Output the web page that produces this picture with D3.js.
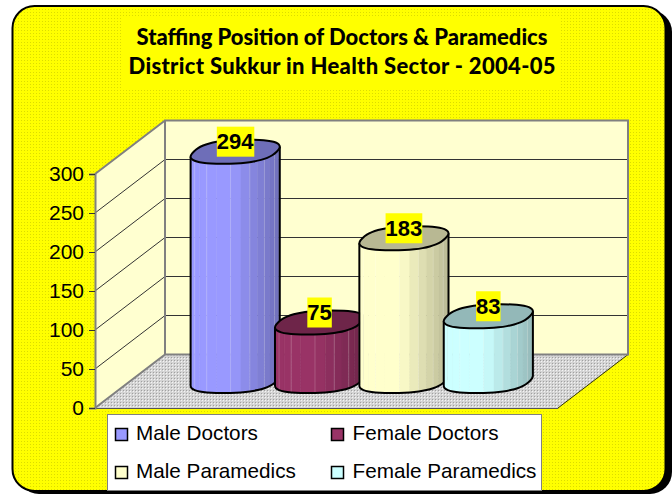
<!DOCTYPE html>
<html>
<head>
<meta charset="utf-8">
<script src="https://cdn.jsdelivr.net/npm/d3@7"></script>
<style>
    html, body { margin: 0; padding: 0; background: #fff; }
    svg { display: block; }
</style>
</head>
<body>
<div id="chart"></div>
<script>
const categories = ['Male Doctors', 'Female Doctors', 'Male Paramedics', 'Female Paramedics'];
const staffValues = [294, 75, 183, 83];
const yTicks = [0, 50, 100, 150, 200, 250, 300];
const barColors = ['#9999ff', '#993366', '#ffffcc', '#ccffff'];
const titleLines = ['Staffing Position of Doctors & Paramedics', 'District Sukkur in Health Sector - 2004-05'];

const width = 672;
const height = 494;

// front plane of the 3D box, depth is a constant shift
const depth = { x: 70, y: -53.5 };
const front = { left: 95, right: 558, bottom: 408, top: 174 };

const y = d3.scaleLinear().domain([0, 300]).range([front.bottom, front.top]);
const x = d3.scaleBand().domain(categories).range([158, 495.5]);

const svg = d3.select('#chart').append('svg')
    .attr('width', width)
    .attr('height', height);

const defs = svg.append('defs');

const yellowPat = defs.append('pattern')
    .attr('id', 'yellowDots')
    .attr('width', 3).attr('height', 3)
    .attr('patternUnits', 'userSpaceOnUse');
yellowPat.append('rect').attr('width', 3).attr('height', 3).attr('fill', '#ffff00');
yellowPat.append('rect').attr('width', 1).attr('height', 1).attr('fill', '#dcdc00');

const floorPat = defs.append('pattern')
    .attr('id', 'floorDots')
    .attr('width', 3).attr('height', 3)
    .attr('patternUnits', 'userSpaceOnUse');
floorPat.append('rect').attr('width', 3).attr('height', 3).attr('fill', '#d4d4d4');
floorPat.append('rect').attr('width', 1).attr('height', 1).attr('fill', '#a0a0a0');
floorPat.append('rect').attr('x', 1).attr('y', 1).attr('width', 1).attr('height', 1).attr('fill', '#f4f4f4');

// card with shadow
svg.append('rect')
    .attr('x', 17).attr('y', 10).attr('width', 655).attr('height', 484)
    .attr('rx', 22).attr('fill', '#000');
svg.append('rect')
    .attr('x', 12.5).attr('y', 6).attr('width', 653).attr('height', 485)
    .attr('rx', 22)
    .attr('fill', 'url(#yellowDots)')
    .attr('stroke', '#000')
    .attr('stroke-width', 2);

// title
svg.append('rect')
    .attr('x', 123).attr('y', 18).attr('width', 437).attr('height', 72)
    .attr('fill', '#ffff00');
svg.append('g').selectAll('text')
    .data(titleLines)
    .enter().append('text')
    .attr('x', 342)
    .attr('y', (d, i) => 45 + i * 29)
    .attr('text-anchor', 'middle')
    .attr('font-family', 'Lato')
    .attr('font-weight', 900)
    .attr('font-size', 22)
    .attr('textLength', (d, i) => i ? 427 : 411)
    .text(d => d);

// walls and floor
const x0 = front.left, x1 = front.right;
const polygon = pts => pts.map(p => p.join(',')).join(' ');
const y0 = y(0), y300 = y(300);
const wallColor = '#ffffd0';

svg.append('polygon')
    .attr('points', polygon([[x0, y0], [x0 + depth.x, y0 + depth.y], [x1 + depth.x, y0 + depth.y], [x1, y0]]))
    .attr('fill', 'url(#floorDots)');
svg.append('line')
    .attr('x1', x1).attr('y1', y0).attr('x2', x1 + depth.x).attr('y2', y0 + depth.y)
    .attr('stroke', '#333300').attr('stroke-width', 1);
svg.append('polygon')
    .attr('points', polygon([[x0, y0], [x0 + depth.x, y0 + depth.y], [x0 + depth.x, y300 + depth.y], [x0, y300]]))
    .attr('fill', wallColor);
svg.append('rect')
    .attr('x', x0 + depth.x).attr('y', y300 + depth.y)
    .attr('width', x1 - x0).attr('height', y0 - y300)
    .attr('fill', wallColor);

// grid lines on both walls
const grid = svg.append('g').attr('fill', 'none').attr('stroke', '#333').attr('stroke-width', 1);
yTicks.filter(d => d > 0 && d < 300).forEach(d => {
    grid.append('polyline')
        .attr('points', polygon([[x0, y(d)], [x0 + depth.x, y(d) + depth.y], [x1 + depth.x, y(d) + depth.y]]));
});

// box border
svg.append('path')
    .attr('d', `M${x0},${y0}L${x0 + depth.x},${y0 + depth.y}L${x1 + depth.x},${y0 + depth.y}`
        + `V${y300 + depth.y}H${x0 + depth.x}V${y0 + depth.y}M${x0 + depth.x},${y300 + depth.y}L${x0},${y300}`)
    .attr('fill', 'none').attr('stroke', '#808080').attr('stroke-width', 2);
svg.append('line')
    .attr('x1', x0).attr('x2', x1).attr('y1', y0 + 0.5).attr('y2', y0 + 0.5)
    .attr('stroke', '#555').attr('stroke-width', 1);

// y axis
const axis = svg.append('g')
    .attr('transform', `translate(${x0},0)`)
    .call(d3.axisLeft(y).tickValues(yTicks).tickSize(6).tickPadding(5));
axis.select('.domain').attr('stroke', '#808080').attr('stroke-width', 2);
axis.selectAll('.tick line').attr('stroke', '#333');
axis.selectAll('text')
    .attr('font-family', 'Liberation Sans')
    .attr('font-size', 21)
    .attr('fill', '#000');

// cylinders, slightly squared ring so the rim looks like the faceted original
const radiusX = 41.5, skewX = 12, skewY = -12;
const barShift = { x: 35, y: -27 };
const squarePow = 0.8;
const spow = v => Math.sign(v) * Math.pow(Math.abs(v), squarePow);

function ringPoint(cx, cy, t) {
    const c = spow(Math.cos(t)), s = spow(Math.sin(t));
    return [cx + radiusX * c + skewX * s, cy + skewY * s];
}

// find where the ring is widest, the body silhouette runs between those angles
const scan = d3.range(0, Math.PI / 2, 0.01);
const t0 = scan[d3.greatestIndex(scan, t => ringPoint(0, 0, t)[0])];
const outerR = ringPoint(0, 0, t0)[0];

const facets = 14;
const outline = d3.line().curve(d3.curveCatmullRom.alpha(0.1));
const closedOutline = d3.line().curve(d3.curveCatmullRomClosed.alpha(0.1));

const bars = svg.append('g').selectAll('g')
    .data(categories)
    .enter().append('g')
    .each(function (cat, i) {
        const g = d3.select(this);
        const base = d3.color(barColors[i]);
        const cx = x(cat) + x.bandwidth() / 2 + barShift.x;
        const cyBase = y(0) + barShift.y;
        const cyTop = y(staffValues[i]) + barShift.y;

        // facets of the body, light on the left and darker to the right
        const ts = d3.range(facets + 1).map(k => t0 + Math.PI + k * Math.PI / facets);
        for (let k = 0; k < facets; k++) {
            const a = ts[k], b = ts[k + 1];
            const pa = ringPoint(cx, cyBase, a), pb = ringPoint(cx, cyBase, b);
            const qa = ringPoint(cx, cyTop, a), qb = ringPoint(cx, cyTop, b);
            const f = ((pa[0] + pb[0]) / 2 - (cx - outerR)) / (2 * outerR);
            const shade = f < 0.45 ? 1 : 1 - (f - 0.45) * 0.5;
            const col = d3.rgb(base.r * shade, base.g * shade, base.b * shade);
            g.append('polygon')
                .attr('points', polygon([pa, pb, qb, qa]))
                .attr('fill', col)
                .attr('stroke', col)
                .attr('stroke-width', 0.5);
            // faint seam between facets
            if (k > 0 && k % 2 === 0) {
                g.append('line')
                    .attr('x1', pa[0]).attr('y1', pa[1])
                    .attr('x2', qa[0]).attr('y2', qa[1])
                    .attr('stroke', '#fff').attr('stroke-opacity', 0.2).attr('stroke-width', 1);
            }
        }

        // outline of the body
        const bottomPts = ts.map(t => ringPoint(cx, cyBase, t));
        const leftTop = ringPoint(cx, cyTop, ts[0]);
        const rightTop = ringPoint(cx, cyTop, ts[facets]);
        g.append('path')
            .attr('d', `M${leftTop}L${bottomPts[0]}` + outline(bottomPts).replace(/^M[^CL]*/, 'L' + bottomPts[0]) + `L${rightTop}`)
            .attr('fill', 'none').attr('stroke', '#000').attr('stroke-width', 2)
            .attr('stroke-linejoin', 'round');

        // top face
        const topPts = d3.range(facets * 2).map(k => ringPoint(cx, cyTop, k * Math.PI / facets));
        g.append('path')
            .attr('d', closedOutline(topPts))
            .attr('fill', d3.rgb(base.r * 0.72, base.g * 0.72, base.b * 0.72))
            .attr('stroke', '#000').attr('stroke-width', 2)
            .attr('stroke-linejoin', 'round');
    });

// value labels
const labels = svg.append('g').selectAll('g')
    .data(categories)
    .enter().append('g')
    .attr('transform', (cat, i) => {
        const cx = x(cat) + x.bandwidth() / 2 + barShift.x;
        return `translate(${cx},${y(staffValues[i]) + barShift.y - 10})`;
    });
labels.append('text')
    .attr('text-anchor', 'middle')
    .attr('dy', '0.35em')
    .attr('font-family', 'Liberation Sans')
    .attr('font-weight', 'bold')
    .attr('font-size', 22)
    .text((cat, i) => staffValues[i]);
labels.each(function () {
    const box = d3.select(this).select('text').node().getBBox();
    d3.select(this).insert('rect', 'text')
        .attr('x', box.x).attr('y', -15)
        .attr('width', box.width).attr('height', 30)
        .attr('fill', '#ffff00');
});

// legend
svg.append('rect')
    .attr('x', 107.5).attr('y', 414.5).attr('width', 434).attr('height', 76)
    .attr('fill', '#fff').attr('stroke', '#808080').attr('stroke-width', 1);

const legend = svg.append('g').selectAll('g')
    .data(categories)
    .enter().append('g')
    .attr('transform', (d, i) => `translate(${i % 2 ? 331 : 115},${i < 2 ? 428 : 466})`);
legend.append('rect')
    .attr('x', 0.5).attr('y', 0.5)
    .attr('width', 12).attr('height', 12)
    .attr('fill', (d, i) => barColors[i])
    .attr('stroke', '#000').attr('stroke-width', 1.5);
legend.append('text')
    .attr('x', (d, i) => i % 2 ? 21.5 : 21)
    .attr('y', 12)
    .attr('font-family', 'Liberation Sans')
    .attr('font-size', 20.7)
    .attr('fill', '#000')
    .text(d => d);
</script>
</body>
</html>
